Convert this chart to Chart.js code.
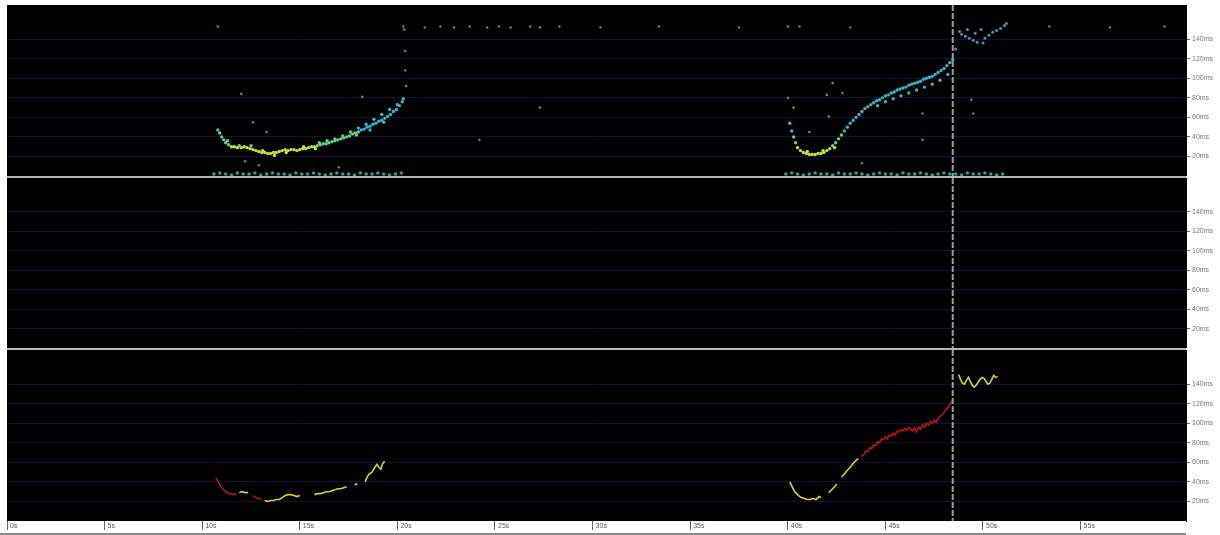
<!DOCTYPE html>
<html>
<head>
<meta charset="utf-8">
<title>Ping plot</title>
<script src="https://cdn.jsdelivr.net/npm/chart.js@4.4.1/dist/chart.umd.min.js"></script>
<style>
  body { margin: 0; background: #fff; }
  #wrap { position: relative; width: 1220px; height: 535px; overflow: hidden; }
  .panel { position: absolute; left: 0; width: 1220px; }
  .sep { position: absolute; left: 7px; width: 1179px; height: 2px; background: #b4b4b4; }
</style>
</head>
<body>
<div id="wrap">
  <div class="panel" style="top:5px;height:171px"><canvas id="pingChart"></canvas></div>
  <div class="sep" style="top:176px"></div>
  <div class="panel" style="top:178px;height:170px"><canvas id="emptyChart"></canvas></div>
  <div class="sep" style="top:348px"></div>
  <div class="panel" style="top:350px;height:183px"><canvas id="lineChart"></canvas></div>
  <div style="position:absolute;left:0;top:533px;width:1186px;height:2px;background:#8a8a8a"></div>
</div>
<script>
// axis ticks
const msTicks = [20, 40, 60, 80, 100, 120, 140];
const secTicks = [0, 5, 10, 15, 20, 25, 30, 35, 40, 45, 50, 55];
const timeMax = 60.4;
const msMax = 175;
const cursorTime = 48.45;

// top panel: ping samples as [seconds, ms]
const curveA = [[10.8,47],[10.9,44],[11.0,40],[11.1,37],[11.2,34],[11.35,32],[11.5,30],[11.65,30],[11.8,29],[12.0,29],[12.15,30],[12.3,29],[12.45,28],[12.6,27],[12.75,26],[12.9,25],[13.05,24],[13.2,24],[13.35,23],[13.5,23],[13.65,24],[13.8,24],[13.95,25],[14.1,26],[14.25,27],[14.4,26],[14.55,27],[14.7,27],[14.85,26],[15.0,27],[15.15,28],[15.3,28],[15.45,29],[15.6,30],[15.75,30],[15.9,31],[16.05,32],[16.2,33],[16.35,33],[16.5,34],[16.65,35],[16.8,36],[16.95,37],[17.1,38],[17.25,39],[17.4,40],[17.55,41],[17.7,43],[17.85,44],[18.0,45],[18.15,47],[18.3,48],[18.45,50],[18.6,51],[18.75,53],[18.9,54],[19.05,56],[19.2,57],[19.35,59],[19.5,61],[19.65,63],[19.8,66],[19.95,68],[20.1,72],[20.25,76],
  [11.3,36],[11.9,31],[12.5,31],[13.1,26],[13.7,21],[14.3,24],[15.2,30],[15.8,28],[16.0,34],[16.4,36],[16.8,38],[17.2,41],[17.6,45],[18.0,49],[18.4,53],[18.8,58],[19.2,63],[19.6,68],[20.0,73],[20.3,79],[17.9,42],[18.6,47],[19.3,55]];
const curveB = [[40.1,54],[40.2,46],[40.3,40],[40.4,34],[40.5,29],[40.65,26],[40.8,24],[40.95,23],[41.1,22],[41.25,22],[41.4,22],[41.55,23],[41.7,23],[41.85,24],[42.0,26],[42.15,28],[42.3,31],[42.45,34],[42.6,38],[42.75,42],[42.9,46],[43.05,50],[43.2,54],[43.35,57],[43.5,60],[43.65,63],[43.8,66],[43.95,69],[44.1,71],[44.25,73],[44.4,75],[44.55,77],[44.7,78],[44.85,80],[45.0,82],[45.15,83],[45.3,85],[45.45,86],[45.6,88],[45.75,89],[45.9,90],[46.05,91],[46.2,93],[46.35,94],[46.5,95],[46.65,96],[46.8,97],[46.95,99],[47.1,100],[47.25,101],[47.4,102],[47.55,104],[47.7,106],[47.85,108],[48.0,110],[48.15,113],[48.3,116],[48.45,119],
  [44.6,72],[45.0,76],[45.4,79],[45.8,82],[46.2,85],[46.6,88],[47.0,91],[47.4,94],[47.8,98],[48.2,104],[41.0,25],[41.8,26],[42.4,29]];
const afterCursor = [[48.6,130],[48.8,148],[48.9,145],[49.1,143],[49.3,141],[49.5,139],[49.7,137],[49.9,150],[50.1,141],[50.3,144],[50.5,147],[50.7,149],[50.9,151],[51.1,154],[51.2,156],[49.2,150],[49.6,146],[50.0,136]];
const strayPings = [[10.8,153],[12.0,84],[12.6,55],[13.3,45],[12.2,15],[12.9,11],[17.0,9],[18.2,81],[24.2,37],[27.3,70],[20.35,150],[20.4,128],[20.4,108],[20.45,92],
  [40.0,153],[40.0,80],[42.3,95],[42.0,83],[42.8,85],[41.1,45],[42.1,61],[46.9,64],[46.9,37],[49.4,78],[49.5,64],[43.8,13],[40.3,70]];
const topRow = [[20.3,153],[21.4,152],[22.2,153],[22.9,152],[23.7,153],[24.6,152],[25.2,153],[25.8,152],[26.8,153],[27.3,152],[28.3,153],[30.4,152],[33.4,153],[37.5,152],[40.6,153],[43.2,152],[53.4,153],[56.5,152],[59.3,153]];
const floorBand = [[10.6,2],[10.9,3],[11.2,2],[11.5,1],[11.8,3],[12.1,2],[12.4,2],[12.7,3],[13.0,1],[13.3,2],[13.6,3],[13.9,2],[14.2,2],[14.5,1],[14.8,3],[15.1,2],[15.4,2],[15.7,3],[16.0,2],[16.3,1],[16.6,2],[16.9,3],[17.2,2],[17.5,2],[17.8,1],[18.1,3],[18.4,2],[18.7,2],[19.0,3],[19.3,2],[19.6,1],[19.9,2],[20.2,3],
  [39.9,2],[40.2,3],[40.5,2],[40.8,1],[41.1,2],[41.4,3],[41.7,2],[42.0,2],[42.3,1],[42.6,3],[42.9,2],[43.2,2],[43.5,3],[43.8,2],[44.1,1],[44.4,2],[44.7,3],[45.0,2],[45.3,2],[45.6,1],[45.9,3],[46.2,2],[46.5,2],[46.8,3],[47.1,2],[47.4,1],[47.7,2],[48.0,3],[48.3,2],[48.6,2],[48.9,1],[49.2,3],[49.5,2],[49.8,2],[50.1,3],[50.4,2],[50.7,1],[51.0,2]];

// bottom panel: lines, null = gap
const redLine = [[10.7,44],[10.8,41],[10.9,37],[11.0,34],[11.15,31],[11.3,29],[11.45,28],[11.6,27],[11.75,28],[11.8,null],
  [12.6,26],[12.75,24],[12.9,23],[13.05,22],[13.1,null],
  [43.75,66],[43.9,68],[44.0,72],[44.1,71],[44.2,75],[44.3,74],[44.4,78],[44.5,77],[44.6,81],[44.7,80],[44.8,84],[44.9,83],[45.0,86],[45.1,84],[45.2,88],[45.3,87],[45.4,90],[45.5,88],[45.6,92],[45.7,91],[45.8,94],[45.9,92],[46.0,95],[46.1,93],[46.2,96],[46.3,94],[46.4,92],[46.5,95],[46.6,91],[46.7,96],[46.8,94],[46.9,98],[47.0,96],[47.1,100],[47.2,98],[47.3,102],[47.4,100],[47.5,103],[47.6,101],[47.7,105],[47.8,107],[47.9,109],[48.0,111],[48.1,114],[48.2,116],[48.3,119],[48.4,123]];
const yellowLine = [[11.9,29],[12.05,30],[12.2,29],[12.35,29],[12.4,null],
  [13.2,21],[13.35,20],[13.5,21],[13.65,21],[13.8,22],[13.95,22],[14.1,24],[14.25,26],[14.4,27],[14.55,27],[14.7,26],[14.85,25],[15.0,26],[15.1,null],
  [15.75,27],[15.9,28],[16.05,28],[16.2,29],[16.35,30],[16.5,30],[16.65,31],[16.8,32],[16.95,33],[17.1,33],[17.25,34],[17.4,35],[17.5,null],
  [17.8,37],[17.95,38],[18.0,null],
  [18.35,40],[18.45,45],[18.55,48],[18.7,50],[18.85,55],[18.95,58],[19.05,55],[19.15,53],[19.25,59],[19.35,61],[19.4,null],
  [40.1,40],[40.2,36],[40.3,32],[40.4,29],[40.55,26],[40.7,24],[40.85,23],[41.0,22],[41.15,22],[41.3,23],[41.45,22],[41.6,25],[41.7,24],[41.8,null],
  [42.1,29],[42.25,32],[42.4,35],[42.5,38],[42.6,null],
  [42.75,45],[42.9,48],[43.05,52],[43.2,55],[43.35,59],[43.5,62],[43.6,64],[43.7,null],
  [48.75,150],[48.85,145],[48.95,141],[49.05,140],[49.15,144],[49.25,147],[49.35,143],[49.45,139],[49.55,137],[49.65,139],[49.75,142],[49.85,145],[49.95,147],[50.05,146],[50.15,143],[50.25,140],[50.35,141],[50.45,145],[50.55,149],[50.65,147],[50.75,148]];

function pts(arr) {
    return arr.map(p => ({ x: p[0], y: p[1] }));
}

// paint the plot area black before the grid
const blackArea = {
    id: 'blackArea',
    beforeDraw(chart) {
        const a = chart.chartArea, ctx = chart.ctx;
        ctx.save();
        ctx.fillStyle = '#000';
        ctx.fillRect(a.left, a.top, a.right - a.left, a.bottom - a.top);
        ctx.restore();
    }
};

// vertical cursor through every panel
const cursorLine = {
    id: 'cursorLine',
    afterDatasetsDraw(chart) {
        const a = chart.chartArea, ctx = chart.ctx;
        const x = chart.scales.x.getPixelForValue(cursorTime);
        ctx.save();
        ctx.strokeStyle = '#9c9c9c';
        ctx.lineWidth = 2;
        ctx.setLineDash([6, 2]);
        ctx.beginPath();
        ctx.moveTo(x, a.top);
        ctx.lineTo(x, a.bottom);
        ctx.stroke();
        ctx.restore();
    }
};

function msAxis() {
    return {
        type: 'linear', position: 'right', min: 0, max: msMax,
        afterBuildTicks: s => { s.ticks = msTicks.map(v => ({ value: v })); },
        afterFit: s => { s.width = 34; s.paddingTop = 0; s.paddingBottom = 0; },
        ticks: { color: '#777', padding: 2, font: { family: 'Arial', size: 7 }, callback: v => v + 'ms' },
        grid: { color: '#10103a', tickColor: '#5a6aa8', tickLength: 4 },
        border: { color: '#000' }
    };
}

function timeAxis(show) {
    return {
        type: 'linear', min: 0, max: timeMax, display: show,
        afterBuildTicks: s => { s.ticks = secTicks.map(v => ({ value: v })); },
        afterFit: s => {
            s.height = show ? 12 : 0;
            s.paddingLeft = 0; s.paddingRight = 0; s.paddingTop = 0; s.paddingBottom = 0;
        },
        ticks: { autoSkip: false, maxRotation: 0, align: 'start', labelOffset: 3, padding: -8,
                 color: '#555', font: { family: 'Arial', size: 7 }, callback: v => v + 's' },
        grid: { drawOnChartArea: false, drawTicks: true, tickLength: 9, tickColor: '#666' },
        border: { display: false }
    };
}

function baseOptions(showTime) {
    return {
        responsive: true,
        maintainAspectRatio: false,
        animation: false,
        events: [],
        layout: { autoPadding: false, padding: { left: 7, top: 0, right: 0, bottom: 0 } },
        plugins: { legend: { display: false }, tooltip: { enabled: false } },
        scales: { x: timeAxis(showTime), y: msAxis() }
    };
}

function pingColor(ctx) {
    const v = ctx.raw ? ctx.raw.y : 0;
    if (v < 31) return '#c6e03a';
    if (v < 46) return '#62cf84';
    return '#3cb0c4';
}

new Chart(document.getElementById('pingChart'), {
    type: 'scatter',
    data: {
        datasets: [
            { label: 'band', data: pts(floorBand), backgroundColor: '#2f9890', borderWidth: 0, pointRadius: 1.8 },
            { label: 'top', data: pts(topRow), backgroundColor: '#5c8a70', borderWidth: 0, pointRadius: 1.2 },
            { label: 'stray', data: pts(strayPings), backgroundColor: '#4f8a74', borderWidth: 0, pointRadius: 1.3 },
            { label: 'after', data: pts(afterCursor), backgroundColor: '#3f94b4', borderWidth: 0, pointRadius: 1.5 },
            { label: 'curveA', data: pts(curveA), backgroundColor: pingColor, borderWidth: 0, pointRadius: 1.7 },
            { label: 'curveB', data: pts(curveB), backgroundColor: pingColor, borderWidth: 0, pointRadius: 1.7 }
        ]
    },
    options: baseOptions(false),
    plugins: [blackArea, cursorLine]
});

new Chart(document.getElementById('emptyChart'), {
    type: 'scatter',
    data: { datasets: [{ data: [] }] },
    options: baseOptions(false),
    plugins: [blackArea, cursorLine]
});

new Chart(document.getElementById('lineChart'), {
    type: 'line',
    data: {
        datasets: [
            { label: 'lossy', data: pts(redLine), borderColor: '#b8121e', borderWidth: 1.6, pointRadius: 0, spanGaps: false, tension: 0 },
            { label: 'ok', data: pts(yellowLine), borderColor: '#d6d032', borderWidth: 1.6, pointRadius: 0, spanGaps: false, tension: 0 }
        ]
    },
    options: baseOptions(true),
    plugins: [blackArea, cursorLine]
});
</script>
</body>
</html>
